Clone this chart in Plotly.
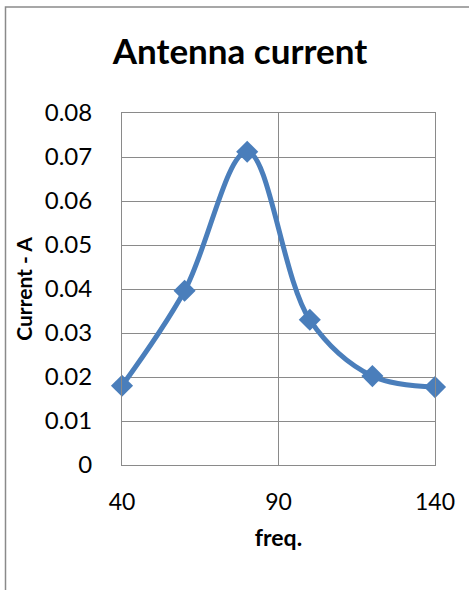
import plotly.graph_objects as go

freq = [40, 60, 80, 100, 120, 140]
current = [0.018, 0.0396, 0.0712, 0.033, 0.0202, 0.0177]
y_ticks = [0, 0.01, 0.02, 0.03, 0.04, 0.05, 0.06, 0.07, 0.08]
y_tick_text = ["0", "0.01", "0.02", "0.03", "0.04", "0.05", "0.06", "0.07", "0.08"]
x_ticks = [40, 90, 140]
x_tick_text = ["40", "90", "140"]

W, H = 469, 590
ml, mr, mt, mb = 122, 34, 113, 125
pw = W - ml - mr
ph = H - mt - mb

def px_to_paper_x(px):
    return (px - ml) / pw

def px_to_paper_y(py):
    return (H - mb - py) / ph

grid = "#8a8a8a"
font = "Lato"

fig = go.Figure()
fig.add_trace(go.Scatter(
    x=freq, y=current, mode="lines+markers",
    line=dict(color="#4a7ebb", width=5, shape="spline", smoothing=1),
    marker=dict(symbol="diamond", size=17, color="#4a7ebb"),
    cliponaxis=False, showlegend=False,
))

fig.update_layout(
    width=W, height=H,
    margin=dict(l=ml, r=mr, t=mt, b=mb),
    paper_bgcolor="white", plot_bgcolor="white",
    title=dict(text="<b>Antenna current</b>", x=240 / W, xref="container", xanchor="center",
               y=1 - 52 / H, yanchor="middle",
               font=dict(family=font, size=35, color="black")),
    font=dict(family=font, color="black"),
    xaxis=dict(range=[40, 140], tickvals=x_ticks, ticktext=x_tick_text,
               showgrid=True, gridcolor=grid, gridwidth=1,
               showline=True, linecolor=grid, linewidth=1, mirror=True,
               ticks="", ticklabelstandoff=16, zeroline=False,
               tickfont=dict(family=font, size=23, color="black"),
               title=dict(text="<b>freq.</b>", standoff=16,
                          font=dict(family=font, size=23, color="black"))),
    yaxis=dict(range=[0, 0.08], tickvals=y_ticks, ticktext=y_tick_text,
               showgrid=True, gridcolor=grid, gridwidth=1,
               showline=True, linecolor=grid, linewidth=1, mirror=True,
               ticks="", ticklabelstandoff=24, zeroline=False,
               tickfont=dict(family=font, size=24, color="black"),
               title=dict(text="<b>Current - A</b>", standoff=6,
                          font=dict(family=font, size=21, color="black"))),
    shapes=[dict(type="rect", xref="paper", yref="paper",
                 x0=px_to_paper_x(5.5), x1=px_to_paper_x(480),
                 y0=px_to_paper_y(7), y1=px_to_paper_y(600),
                 line=dict(color="#8a8a8a", width=1.5), layer="below")],
)

fig.write_html("out.html")
